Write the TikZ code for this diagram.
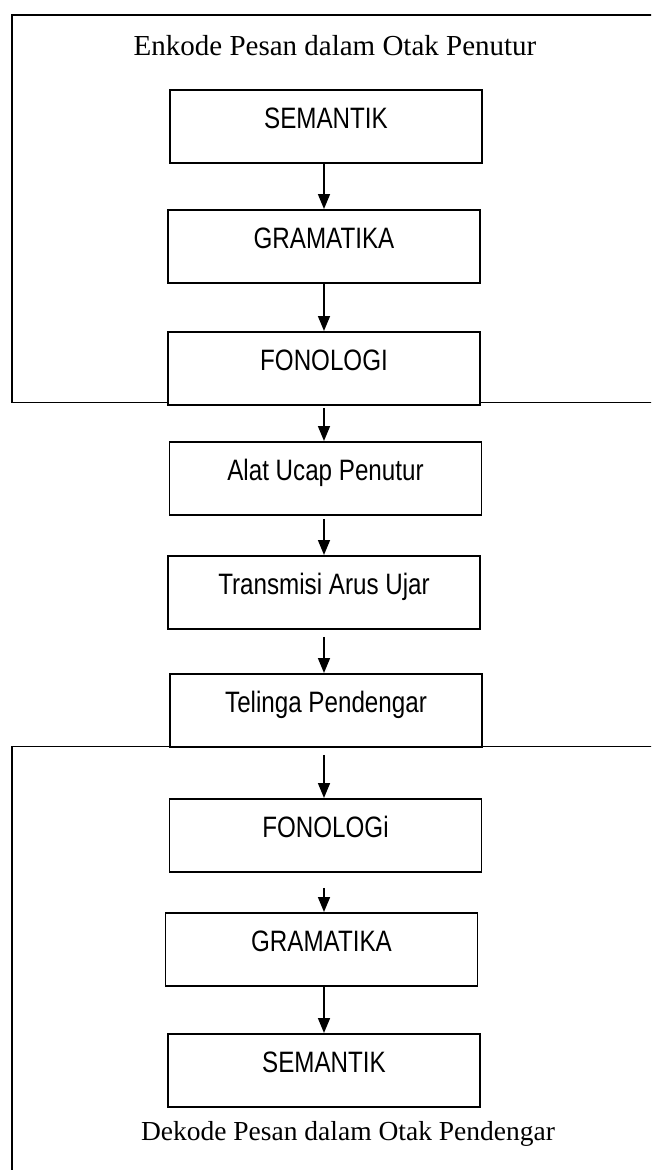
\documentclass[tikz,border=0pt]{standalone}
\usepackage{fontspec}
\setmainfont{Liberation Serif}
\newfontfamily\narrowsans[FakeStretch=0.82]{Liberation Sans}
\usetikzlibrary{arrows.meta}
\begin{document}
\begin{tikzpicture}[x=1pt,y=-1pt,
  stagebox/.style={draw, line width=1.8pt, fill=white, inner sep=0pt,
    minimum width=312pt, text height=39pt, text depth=34pt,
    font=\narrowsans\fontsize{29.5}{29.5}\selectfont, anchor=north},
  flow/.style={-{Triangle[width=12pt,length=15pt]}, line width=1.6pt},
  frameline/.style={line width=1.8pt},
  caption/.style={font=\fontsize{29}{29}\selectfont, inner sep=0pt, anchor=base}]
\useasboundingbox (0,0) rectangle (651,1170);
\clip (0,0) rectangle (651,1170);
% frames
\draw[frameline] (670,15) -- (12,15) -- (12,402.5) -- (670,402.5);
\draw[frameline] (670,746.5) -- (12,746.5) -- (12,1190);
% captions
\node[caption] (title) at (335,55) {Enkode Pesan dalam Otak Penutur};
\node[caption, font=\fontsize{27.5}{27.5}\selectfont] (cap2) at (348,1140) {Dekode Pesan dalam Otak Pendengar};
% boxes
\node[stagebox] (s1) at (326,89) {SEMANTIK};
\node[stagebox] (g1) at (324,209) {GRAMATIKA};
\node[stagebox] (f1) at (324,331) {FONOLOGI};
\node[stagebox] (a) at (325.5,441) {Alat Ucap Penutur};
\node[stagebox] (t) at (324,555) {Transmisi Arus Ujar};
\node[stagebox] (tel) at (326,673) {Telinga Pendengar};
\node[stagebox] (f2) at (325.5,798) {FONOLOGi};
\node[stagebox] (g2) at (321.5,912) {GRAMATIKA};
\node[stagebox] (s2) at (324,1033) {SEMANTIK};
% arrows
\draw[flow] (s1.south -| 324,0) -- (g1.north -| 324,0);
\draw[flow] (g1.south -| 324,0) -- (f1.north -| 324,0);
\draw[flow, shorten <=2pt] (f1.south -| 324,0) -- (a.north -| 324,0);
\draw[flow, shorten <=3pt] (a.south -| 324,0) -- (t.north -| 324,0);
\draw[flow, shorten <=7pt] (t.south -| 324,0) -- (tel.north -| 324,0);
\draw[flow, shorten <=7pt] (tel.south -| 324,0) -- (f2.north -| 324,0);
\draw[flow, shorten <=15pt] (f2.south -| 324,0) -- (g2.north -| 324,0);
\draw[flow] (g2.south -| 324,0) -- (s2.north -| 324,0);
\end{tikzpicture}
\end{document}
